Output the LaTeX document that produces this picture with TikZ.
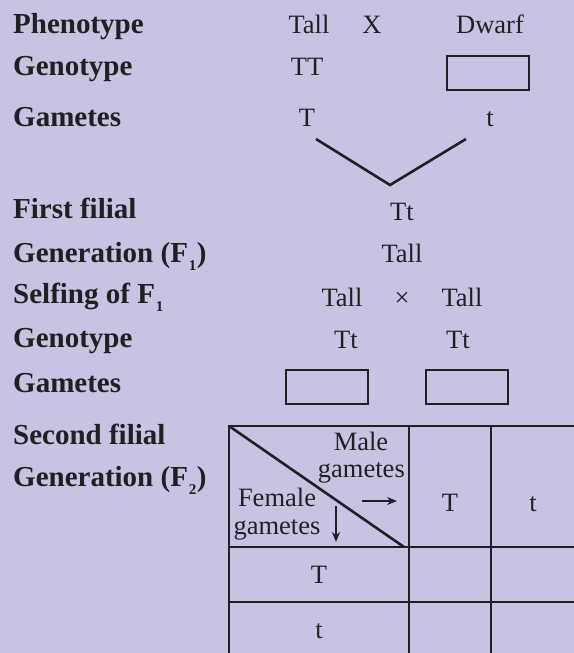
\documentclass[tikz,border=0pt]{standalone}
\usepackage{fontspec}
\setmainfont{Liberation Serif}
\usetikzlibrary{arrows.meta}
\definecolor{bg}{RGB}{198,196,226}
\definecolor{ink}{RGB}{35,31,32}
\newcommand{\mysub}[1]{\kern1bp\raisebox{-8bp}{\fontsize{15bp}{15bp}\selectfont #1}\kern0.5bp}
\begin{document}
\begin{tikzpicture}[x=1bp,y=-1bp,
  lab/.style={anchor=base west,inner sep=0pt,font=\fontsize{29bp}{31bp}\selectfont\bfseries,text=ink},
  val/.style={anchor=base,inner sep=0pt,font=\fontsize{26.5bp}{28bp}\selectfont,text=ink},
  ln/.style={draw=ink,line width=2.6bp},
  emptybox/.style={draw=ink,line width=2.6bp,minimum width=82bp,minimum height=34bp,inner sep=0pt},
  arr/.style={draw=ink,line width=1.5bp,-{Stealth[length=10bp,width=8bp]}}]
\fill[bg] (0,0) rectangle (574,653);
\useasboundingbox (0,0) rectangle (574,653);
% left labels
\node[lab] (ph) at (13,34) {Phenotype};
\node[lab] (ge1) at (13,76) {Genotype};
\node[lab] (ga1) at (13,127) {Gametes};
\node[lab] (ff) at (13,218) {First filial};
\node[lab] (g1) at (13,262) {Generation (F\mysub{1})};
\node[lab] (sf) at (13,303) {Selfing of F\mysub{1}};
\node[lab] (ge2) at (13,347) {Genotype};
\node[lab] (ga2) at (13,392) {Gametes};
\node[lab] (sf2) at (13,444) {Second filial};
\node[lab] (g2) at (13,486) {Generation (F\mysub{2})};
% parents
\node[val] (tall1) at (309,34) {Tall};
\node[val] (x1) at (372,34) {X};
\node[val] (dwarf) at (490,34) {Dwarf};
\node[val] (TT) at (307,76) {TT};
\node[emptybox] (box0) at (488,73) {};
\node[val] (gT) at (307,127) {T};
\node[val] (gt) at (490,127) {t};
\coordinate (v1) at (316,139);
\coordinate (vb) at (390,185);
\coordinate (v2) at (466,139);
\draw[ln] (v1) -- (vb) -- (v2);
% F1
\node[val] (Tt) at (402,220) {Tt};
\node[val] (tallF1) at (402,262) {Tall};
\node[val] (tallA) at (342,306) {Tall};
\node[val] (cross) at (402,306) {×};
\node[val] (tallB) at (462,306) {Tall};
\node[val] (TtA) at (346,348) {Tt};
\node[val] (TtB) at (458,348) {Tt};
\node[emptybox] (boxA) at (327,387) {};
\node[emptybox] (boxB) at (467,387) {};
% Punnett table
\coordinate (c00) at (229,426);
\coordinate (d1) at (404,547);
\draw[ln] (228,426) -- (575,426);
\draw[ln] (228,547) -- (575,547);
\draw[ln] (228,602) -- (575,602);
\draw[ln] (229,425) -- (229,654);
\draw[ln] (409,425) -- (409,654);
\draw[ln] (491,425) -- (491,654);
\draw[ln] (c00) -- (d1);
\node[val] (male) at (361,450) {Male};
\node[val,anchor=base east] (mg) at (405,477) {gametes};
\node[val] (female) at (277,506) {Female};
\node[val] (fg) at (277,534) {gametes};
\coordinate (ra1) at (362,501);
\coordinate (ra2) at (397,501);
\draw[arr] (ra1) -- (ra2);
\coordinate (da1) at (336,506);
\coordinate (da2) at (336,542);
\draw[arr] (da1) -- (da2);
\node[val] (hT) at (450,511) {T};
\node[val] (ht) at (533,511) {t};
\node[val] (rT) at (319,583) {T};
\node[val] (rt) at (319,638) {t};
\end{tikzpicture}
\end{document}
